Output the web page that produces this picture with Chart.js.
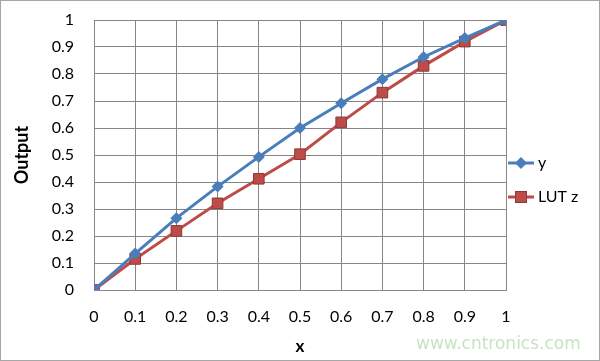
<!DOCTYPE html>
<html><head><meta charset="utf-8">
<script src="https://cdn.jsdelivr.net/npm/chart.js@4"></script>
<style>html,body{margin:0;padding:0;background:#fff;}#wrap{width:600px;height:361px;}</style>
</head><body><div id="wrap"><canvas id="c" width="600" height="361"></canvas></div>
<script>
const xValues = [0, 0.1, 0.2, 0.3, 0.4, 0.5, 0.6, 0.7, 0.8, 0.9, 1];
const yValues = [0, 0.135, 0.266, 0.383, 0.493, 0.600, 0.692, 0.781, 0.863, 0.933, 1];
const lutValues = [0, 0.115, 0.219, 0.321, 0.412, 0.503, 0.621, 0.731, 0.830, 0.920, 1];
const seriesNames = ['y', 'LUT z'];
const xTitle = 'x';
const yTitle = 'Output';
const watermark = 'www.cntronics.com';

const FONT = 'Lato, "Open Sans", sans-serif';
const blue = '#4A7EBB', red = '#BE4B48', redDark = '#8C3836';

const extras = {
  id: 'extras',
  afterDraw(chart) {
    const ctx = chart.ctx;
    const a = chart.chartArea;
    ctx.save();
    ctx.strokeStyle = '#a6a6a6'; ctx.lineWidth = 1;
    ctx.strokeRect(0.5, 0.5, 599, 360);
    const items = [
      {name: seriesNames[0], color: blue, style: 'diamond', y: 163},
      {name: seriesNames[1], color: red, style: 'square', y: 197}
    ];
    items.forEach(it => {
      const x0 = a.right + 0, x1 = x0 + 30, cx = (x0 + x1) / 2;
      ctx.strokeStyle = it.color; ctx.lineWidth = 3;
      ctx.beginPath(); ctx.moveTo(x0 + 2, it.y); ctx.lineTo(x1 - 2, it.y); ctx.stroke();
      if (it.style === 'diamond') {
        ctx.fillStyle = it.color;
        ctx.beginPath(); ctx.moveTo(cx, it.y - 6); ctx.lineTo(cx + 6, it.y); ctx.lineTo(cx, it.y + 6); ctx.lineTo(cx - 6, it.y); ctx.closePath(); ctx.fill();
      } else {
        ctx.fillStyle = it.color; ctx.strokeStyle = redDark; ctx.lineWidth = 1;
        ctx.fillRect(cx - 5.5, it.y - 5.5, 11, 11); ctx.strokeRect(cx - 5.5, it.y - 5.5, 11, 11);
      }
      ctx.fillStyle = '#000'; ctx.font = '16px ' + FONT; ctx.textBaseline = 'middle'; ctx.textAlign = 'left';
      ctx.fillText(it.name, x1 + 2, it.y);
    });
    ctx.fillStyle = 'rgba(150,205,140,0.55)'; ctx.font = '17px "DejaVu Sans", sans-serif';
    ctx.textAlign = 'left'; ctx.textBaseline = 'middle';
    ctx.fillText(watermark, 416, 345);
    ctx.restore();
  }
};

new Chart(document.getElementById('c'), {
  type: 'line',
  data: {
    datasets: [
      {label: seriesNames[0], data: xValues.map((x, i) => ({x, y: yValues[i]})), borderColor: blue, backgroundColor: blue,
       borderWidth: 3, pointStyle: 'rectRot', pointRadius: 6, pointBorderWidth: 0, tension: 0},
      {label: seriesNames[1], data: xValues.map((x, i) => ({x, y: lutValues[i]})), borderColor: red, backgroundColor: red,
       borderWidth: 3, pointStyle: 'rect', pointRadius: 7.5, pointBorderColor: redDark, pointBorderWidth: 1, tension: 0}
    ]
  },
  options: {
    responsive: false, animation: false, devicePixelRatio: 1,
    layout: {padding: {left: 0, right: 94, top: 20, bottom: 0}},
    plugins: {legend: {display: false}, tooltip: {enabled: false}},
    scales: {
      x: {
        type: 'linear', min: 0, max: 1,
        afterFit(s) { s.height = 71; },
        ticks: {stepSize: 0.1, color: '#000', padding: 17, font: {family: FONT, size: 16},
                callback: v => String(Math.round(v * 10) / 10)},
        grid: {color: '#868686', lineWidth: 1, drawTicks: false},
        border: {color: '#868686', width: 1},
        title: {display: true, text: xTitle, color: '#000', font: {family: FONT, size: 17, weight: 'bold'}, padding: {top: 8}}
      },
      y: {
        min: 0, max: 1,
        afterFit(s) { s.width = 94; },
        ticks: {stepSize: 0.1, color: '#000', padding: 3, font: {family: FONT, size: 16},
                callback: v => String(Math.round(v * 10) / 10)},
        grid: {color: '#868686', lineWidth: 1, drawTicks: true, tickLength: 17, tickColor: 'rgba(0,0,0,0)'},
        border: {color: '#868686', width: 1},
        title: {display: true, text: yTitle, color: '#000', font: {family: FONT, size: 18, weight: 'bold'}, padding: {top: 11, bottom: 0}}
      }
    }
  },
  plugins: [extras]
});
</script></body></html>
